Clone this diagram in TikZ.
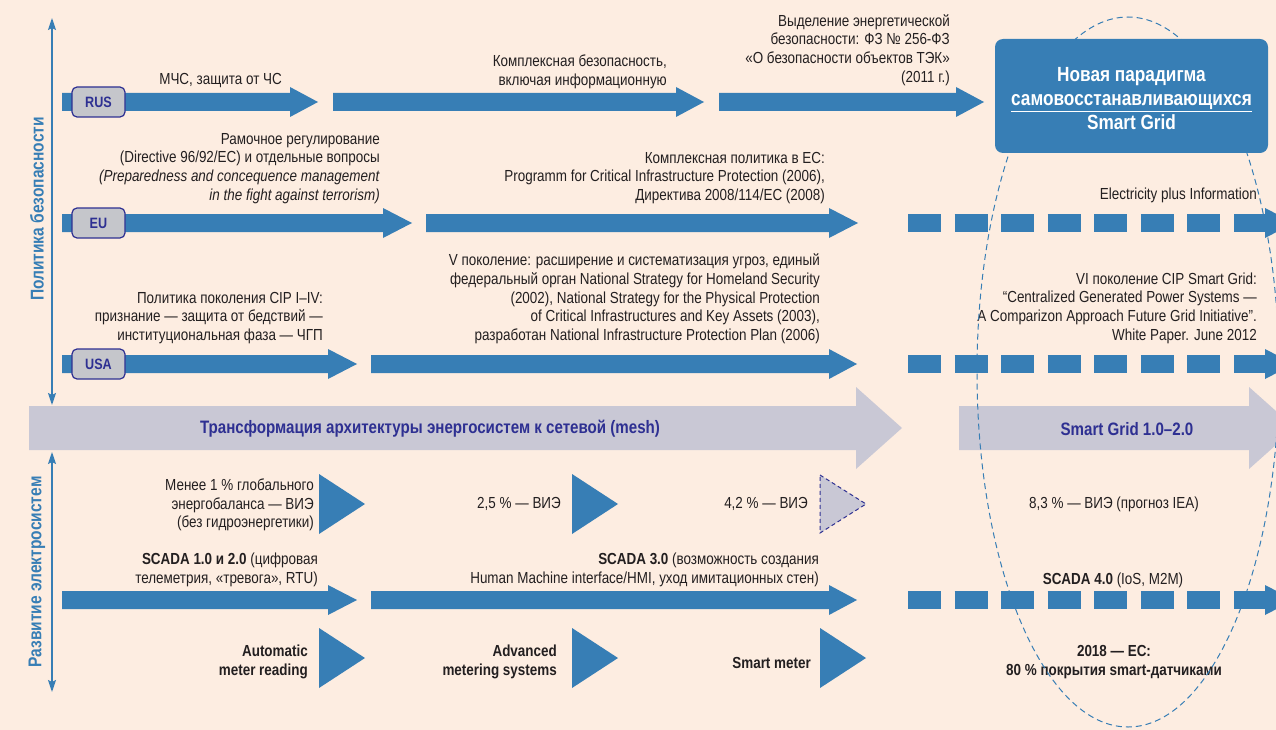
\documentclass[tikz,border=0pt]{standalone}
\usepackage{fontspec}
\setmainfont{Liberation Sans}[FakeStretch=0.84]
\usetikzlibrary{arrows.meta}
\definecolor{bg}{HTML}{FDEDE1}
\definecolor{arrowblue}{HTML}{377EB5}
\definecolor{bandgray}{HTML}{C9C8D5}
\definecolor{navy}{HTML}{2E3092}
\definecolor{ink}{HTML}{231F20}
\definecolor{boxgray}{HTML}{C5C6CB}
\newcommand{\tlarrow}[4]{\fill[arrowblue] (#1,#4-9) -- (#2,#4-9) -- (#2,#4-15) -- (#3,#4) -- (#2,#4+15) -- (#2,#4+9) -- (#1,#4+9) -- cycle;}
\newcommand{\dasharrowrow}[1]{\draw[arrowblue, line width=18pt, dash pattern=on 33pt off 13.57pt] (908,#1) -- (1266,#1); \fill[arrowblue] (1265,#1-15) -- (1294,#1) -- (1265,#1+15) -- cycle;}
\newcommand{\bandarrow}[3]{\fill[bandgray] (#1,406) -- (#2,406) -- (#2,387) -- (#3,428) -- (#2,469) -- (#2,450) -- (#1,450) -- cycle;}
\newcommand{\bluetri}[2]{\fill[arrowblue] (#1,#2-30) -- (#1+46,#2) -- (#1,#2+30) -- cycle;}
\begin{document}
\begin{tikzpicture}[x=1pt,y=-1pt,
  txt/.style={inner sep=0pt, text=ink, font=\fontsize{16}{18.7}\selectfont, align=right, anchor=east},
  txtc/.style={txt, align=center, anchor=center},
  btxt/.style={font=\bfseries\fontsize{16}{18.7}\selectfont},
  cbox/.style={draw=navy, fill=boxgray, rounded corners=5pt, line width=1.2pt, minimum width=53pt, minimum height=30pt, inner sep=0pt, text=navy, font=\bfseries\fontsize{15}{15}\selectfont},
  bandtxt/.style={inner sep=0pt, text=navy, font=\bfseries\fontsize{18}{20}\selectfont},
  axislabel/.style={inner sep=0pt, text=arrowblue, rotate=90, font=\bfseries\fontsize{18.5}{20}\selectfont},
  axisline/.style={draw=arrowblue, line width=1.5pt, {Stealth[length=12pt,width=8pt,inset=2pt]}-{Stealth[length=12pt,width=8pt,inset=2pt]}},
  ell/.style={draw=arrowblue, line width=1pt, dash pattern=on 6pt off 4pt},
  sgbox/.style={fill=arrowblue, rounded corners=8pt, minimum width=273pt, minimum height=114pt, inner sep=0pt},
  sgtxt/.style={inner sep=0pt, text=white, align=center, font=\bfseries\fontsize{20.5}{24}\selectfont}
]
\useasboundingbox (0,0) rectangle (1276,730);
\fill[bg] (0,0) rectangle (1276,730);
\clip (0,0) rectangle (1276,730);

% axes
\coordinate (a1top) at (52,18);
\coordinate (a1bot) at (52,405);
\coordinate (a2top) at (52,452);
\coordinate (a2bot) at (52,692);
\draw[axisline] (a1bot) -- (a1top);
\draw[axisline] (a2bot) -- (a2top);
\node[axislabel] (lab1) at (37,209) {Политика безопасности};
\node[axislabel] (lab2) at (37,572) {Развитие электросистем};

% RUS row
\tlarrow{62}{290}{318}{102}
\tlarrow{333}{676}{704}{102}
\tlarrow{719}{956}{984}{102}
\node[cbox] (rus) at (98.5,102) {RUS};
\node[txt] (r1) at (282,81) {МЧС, защита от ЧС};
\node[txt] (r2) at (667,72) {Комплексная безопасность,\\включая информационную};
\node[txt] (r3) at (950,50) {Выделение энергетической\\безопасности: ФЗ № 256-ФЗ\\«О безопасности объектов ТЭК»\\(2011 г.)};

% EU row
\tlarrow{62}{383}{412}{223}
\tlarrow{426}{829}{858}{223}
\dasharrowrow{223}
\node[cbox] (eu) at (98.5,223) {EU};
\node[txt] (e1) at (380,168.5) {Рамочное регулирование\\(Directive 96/92/EC) и отдельные вопросы\\\textit{(Preparedness and concequence management}\\\textit{in the fight against terrorism)}};
\node[txt] (e2) at (825,178) {Комплексная политика в ЕС:\\Programm for Critical Infrastructure Protection (2006),\\Директива 2008/114/ЕС (2008)};
\node[txt] (e3) at (1257,195) {Electricity plus Information};

% USA row
\tlarrow{62}{328}{357}{364}
\tlarrow{371}{829}{857}{364}
\dasharrowrow{364}
\node[cbox] (usa) at (98.5,364) {USA};
\node[txt] (u1) at (323,318) {Политика поколения CIP I–IV:\\признание — защита от бедствий —\\институциональная фаза — ЧГП};
\node[txt] (u2) at (820,299) {V поколение: расширение и систематизация угроз, единый\\федеральный орган National Strategy for Homeland Security\\(2002), National Strategy for the Physical Protection\\of Critical Infrastructures and Key Assets (2003),\\разработан National Infrastructure Protection Plan (2006)};
\node[txt] (u3) at (1257,308) {VI поколение CIP Smart Grid:\\“Centralized Generated Power Systems —\\A Comparizon Approach Future Grid Initiative”.\\White Paper. June 2012};

% transformation band
\bandarrow{29}{856}{902}
\bandarrow{959}{1249}{1295}
\node[bandtxt] (b1) at (430,429) {Трансформация архитектуры энергосистем к сетевой (mesh)};
\node[bandtxt] (b2) at (1127,429) {Smart Grid 1.0–2.0};

% RES row
\bluetri{319}{504}
\bluetri{572}{504}
\draw[navy, fill=bandgray, line width=1pt, dash pattern=on 4pt off 3pt] (820,475) -- (866,504) -- (820,533) -- cycle;
\node[txt] (v1) at (314,505) {Менее 1 \% глобального\\энергобаланса — ВИЭ\\(без гидроэнергетики)};
\node[txt] (v2) at (561,504) {2,5 \% — ВИЭ};
\node[txt] (v3) at (808,504) {4,2 \% — ВИЭ};
\node[txtc] (v4) at (1114,504) {8,3 \% — ВИЭ (прогноз IEA)};

% SCADA row
\tlarrow{62}{328}{357}{600}
\tlarrow{371}{829}{857}{600}
\dasharrowrow{600}
\node[txt] (s1) at (318,570) {\textbf{SCADA 1.0 и 2.0} (цифровая\\телеметрия, «тревога», RTU)};
\node[txt] (s2) at (819,570) {\textbf{SCADA 3.0} (возможность создания\\Human Machine interface/HMI, уход имитационных стен)};
\node[txtc] (s3) at (1113,580) {\textbf{SCADA 4.0} (IoS, M2M)};

% meter row
\bluetri{319}{658}
\bluetri{572}{658}
\bluetri{820}{658}
\node[txt, btxt] (m1) at (308,662) {Automatic\\meter reading};
\node[txt, btxt] (m2) at (557,662) {Advanced\\metering systems};
\node[txt, btxt] (m3) at (811,663) {Smart meter};
\node[txtc, btxt] (m4) at (1114,662) {2018 — ЕС:\\80 \% покрытия smart-датчиками};

% ellipse and Smart Grid box
\draw[ell] (1128,372) ellipse [x radius=151, y radius=355];
\node[sgbox] (sg) at (1131.5,96) {};
\node[sgtxt] (sgt) at (1131.5,99) {Новая парадигма\\\underline{самовосстанавливающихся}\\Smart Grid};
\end{tikzpicture}
\end{document}
